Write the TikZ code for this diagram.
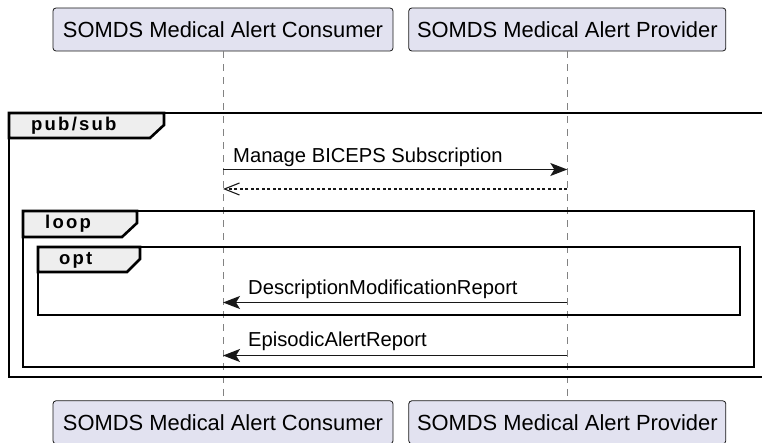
\documentclass[tikz,border=0pt]{standalone}
\usepackage{fontspec}
\setmainfont{Liberation Sans}
\newfontfamily\tabfont[LetterSpace=12]{Liberation Sans}
\usetikzlibrary{positioning,arrows.meta}
\definecolor{colorpart} {RGB}{226,226,240}
\definecolor{colorline} {RGB}{24 ,24 ,24 }
\definecolor{colortab}  {RGB}{238,238,238}
\definecolor{colorlife} {RGB}{130,130,130}
\definecolor{colortext} {RGB}{0  ,0  ,0  }

\begin{document}
\begin{tikzpicture}[
    x=1pt, y=-1pt,
    part/.style={draw=colorline,fill=colorpart,rounded corners=3pt,line width=0.8pt,minimum height=43pt,inner sep=0pt,text=colortext,font={\fontsize{21.9}{26}\selectfont}},
    life/.style={draw=colorlife,line width=0.8pt,dash pattern=on 7pt off 6pt},
    msg/.style={draw=colorline,line width=1.4pt,-{Stealth[length=17pt,width=13pt,inset=4pt]}},
    reply/.style={draw=colorline,line width=1.1pt,dash pattern=on 3pt off 2.5pt,-{Straight Barb[length=15pt,width=12pt,line width=1.1pt]}},
    msgtxt/.style={text=colortext,anchor=west,inner sep=0pt,font={\fontsize{20.2}{24}\selectfont}},
    frame/.style={draw=black,line width=2.6pt},
    tab/.style={draw=black,fill=colortab,line width=2.6pt,line join=miter},
    tablbl/.style={text=colortext,anchor=west,inner sep=0pt,font={\tabfont\bfseries\fontsize{18.5}{22}\selectfont}},
]
    \clip (0,0) rectangle (762,443);

    % Participants
    \node[part,minimum width=340pt] at (223,29.5)       (consumer)  {SOMDS Medical Alert Consumer};
    \node[part,minimum width=317pt,right=15pt of consumer] (provider) {SOMDS Medical Alert Provider};
    \node[part,minimum width=340pt,below=349pt of consumer] (consumerb) {SOMDS Medical Alert Consumer};
    \node[part,minimum width=317pt,below=349pt of provider] (providerb) {SOMDS Medical Alert Provider};

    % Lifelines
    \draw[life] (consumer.south) -- (consumerb.north);
    \draw[life] (provider.south) -- (providerb.north);

    % pub/sub frame
    \draw[frame] (9,113) rectangle (790,377);
    \draw[tab] (9,113) -- (164,113) -- (164,125) -- (150,138) -- (9,138) -- cycle;
    \node[tablbl] (pubsub) at (31,126) {pub/sub};

    % Subscription
    \node[msgtxt] (subtxt) at (233,157) {Manage BICEPS Subscription};
    \draw[msg]   (consumer.south |- 0,169.5) -- (provider.south |- 0,169.5);
    \draw[reply] (provider.south |- 0,189) -- (consumer.south |- 0,189);

    % loop frame
    \draw[frame] (23,211) rectangle (754,367);
    \draw[tab] (23,211) -- (137,211) -- (137,223) -- (122,237) -- (23,237) -- cycle;
    \node[tablbl] (loop) at (45,224) {loop};

    % opt frame
    \draw[frame] (38,247) rectangle (740,315);
    \draw[tab] (38,247) -- (140,247) -- (140,259) -- (127,272) -- (38,272) -- cycle;
    \node[tablbl] (opt) at (59,260) {opt};

    % Reports
    \node[msgtxt] (desctxt) at (248,289) {DescriptionModificationReport};
    \draw[msg] (provider.south |- 0,302.5) -- (consumer.south |- 0,302.5);
    \node[msgtxt] (epitxt) at (248,341.5) {EpisodicAlertReport};
    \draw[msg] (provider.south |- 0,355.5) -- (consumer.south |- 0,355.5);

\end{tikzpicture}
\end{document}
